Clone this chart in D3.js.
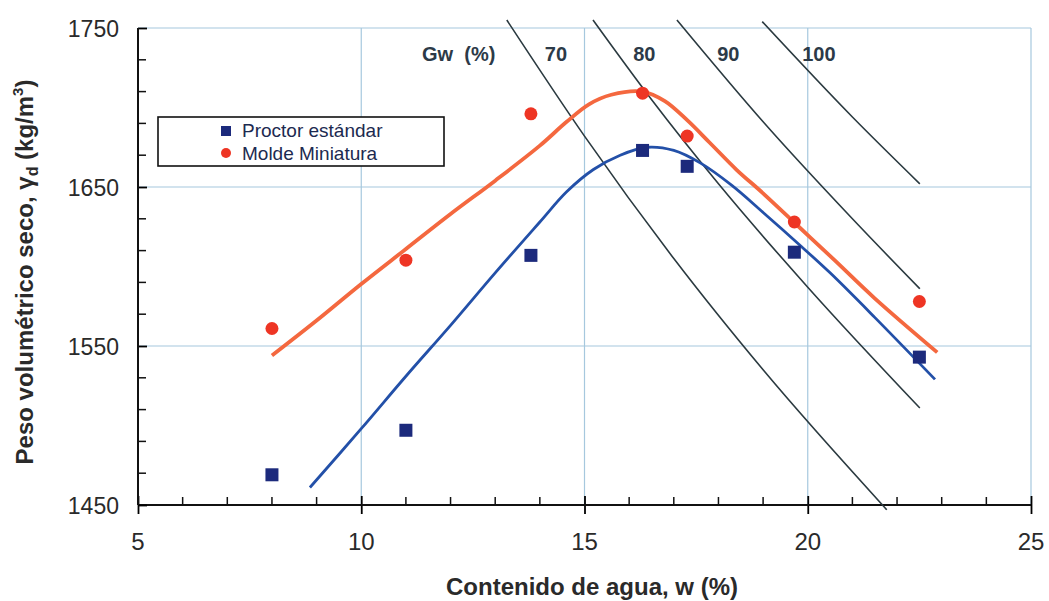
<!DOCTYPE html>
<html>
<head>
<meta charset="utf-8">
<script src="https://cdn.jsdelivr.net/npm/d3@7"></script>
<style>
  body { margin: 0; background: #fff; }
  svg { font-family: "Liberation Sans", Arial, sans-serif; }
  .tick-label { fill: #2a2a2a; }
  .axis-title { font-size: 24px; font-weight: bold; fill: #2a2a2a; }
  .gw-label { font-size: 20px; font-weight: bold; fill: #2c3a48; }
  .legend-text { font-size: 19px; fill: #1c2a50; }
</style>
</head>
<body>
<div id="chart"></div>
<script>
// measured points
const waterContent = [8.0, 11.0, 13.8, 16.3, 17.3, 19.7, 22.5];
const proctorValues = [1469, 1497, 1607, 1673, 1663, 1609, 1543];
const miniValues = [1561, 1604, 1696, 1709, 1682, 1628, 1578];

// fitted curves
const proctorFitW = [8.85, 10, 11, 12, 13, 14, 14.6, 15.2, 15.8, 16.4, 17.0, 17.6, 18.3, 19.0, 19.8, 20.5, 21.5, 22.85];
const proctorFitY = [1461, 1498, 1531, 1563, 1596, 1628, 1647, 1661, 1670, 1675, 1673, 1665, 1651, 1634, 1614, 1596, 1568, 1529];
const miniFitW = [8.0, 9, 10, 11, 12, 13, 14, 14.6, 15.1, 15.6, 16.3, 16.8, 17.3, 17.8, 18.4, 19.0, 19.8, 20.6, 21.5, 22.9];
const miniFitY = [1544, 1566, 1589, 1611, 1633, 1654, 1676, 1691, 1702, 1708, 1710, 1704, 1692, 1678, 1661, 1646, 1625, 1604, 1580, 1546];

// degree of saturation lines
const gwLabels = ["70", "80", "90", "100"];
const gwLineW = [
  [13.26, 15, 17, 19, 21.77],
  [15.19, 16.5, 18, 20, 22.51],
  [17.07, 19, 21, 22.51],
  [18.98, 21, 22.51]
];
const gwLineY = [
  [1755, 1682, 1605, 1535, 1447],
  [1755, 1705, 1652, 1587, 1511],
  [1755, 1691, 1630, 1586],
  [1754, 1694, 1652]
];

const xTicks = [5, 10, 15, 20, 25];
const yTicks = [1450, 1550, 1650, 1750];
const seriesNames = ["Proctor estándar", "Molde Miniatura"];

const W = 1049, H = 601;
const x = d3.scaleLinear().domain([5, 25]).range([138, 1031]);
const y = d3.scaleLinear().domain([1450, 1750]).range([505, 28]);

const svg = d3.select("#chart").append("svg")
  .attr("width", W).attr("height", H);

// grid
svg.append("g").selectAll("line")
  .data(xTicks.slice(1))
  .enter().append("line")
  .attr("x1", d => x(d)).attr("x2", d => x(d))
  .attr("y1", y(1750)).attr("y2", y(1450))
  .attr("stroke", "#a6c8de").attr("stroke-width", 1.2);
svg.append("g").selectAll("line")
  .data(yTicks.slice(1))
  .enter().append("line")
  .attr("x1", x(5)).attr("x2", x(25))
  .attr("y1", d => y(d)).attr("y2", d => y(d))
  .attr("stroke", "#a6c8de").attr("stroke-width", 1.2);

// axes with inward minor ticks, crossing major ticks
const xMinor = d3.range(6, 25).filter(v => v % 5 !== 0);
const yMinor = d3.range(1470, 1750, 20).filter(v => v % 100 !== 50);

const xAxis = svg.append("g").attr("transform", "translate(0," + y(1450) + ")");
xAxis.call(d3.axisBottom(x).tickValues(xTicks).tickSize(9).tickFormat(""));
xAxis.select(".domain").remove();
xAxis.selectAll(".tick line").attr("y1", -9).attr("stroke-width", 1.8);
xAxis.selectAll(".mn").data(xMinor).enter().append("line")
  .attr("x1", d => x(d)).attr("x2", d => x(d))
  .attr("y1", 0).attr("y2", -8)
  .attr("stroke", "#111").attr("stroke-width", 1.5);
xAxis.append("line").attr("x1", x(5)).attr("x2", x(25))
  .attr("stroke", "#111").attr("stroke-width", 2);

const yAxis = svg.append("g").attr("transform", "translate(" + x(5) + ",0)");
yAxis.call(d3.axisLeft(y).tickValues(yTicks).tickSize(10).tickFormat(""));
yAxis.select(".domain").remove();
yAxis.selectAll(".tick line").attr("x2", 9).attr("stroke-width", 1.8);
yAxis.selectAll(".mn").data(yMinor).enter().append("line")
  .attr("x1", 0).attr("x2", 8)
  .attr("y1", d => y(d)).attr("y2", d => y(d))
  .attr("stroke", "#111").attr("stroke-width", 1.5);
yAxis.append("line").attr("y1", y(1750)).attr("y2", y(1450))
  .attr("stroke", "#111").attr("stroke-width", 2);

// tick labels
svg.append("g").selectAll("text")
  .data(xTicks).enter().append("text")
  .attr("class", "tick-label")
  .attr("font-size", "24px")
  .attr("x", d => x(d)).attr("y", 550)
  .attr("text-anchor", "middle")
  .text(d => d);
svg.append("g").selectAll("text")
  .data(yTicks).enter().append("text")
  .attr("class", "tick-label")
  .attr("font-size", "23px")
  .attr("x", 119).attr("y", d => y(d) + 9)
  .attr("text-anchor", "end")
  .text(d => d);

// axis titles
svg.append("text")
  .attr("class", "axis-title")
  .attr("x", 592).attr("y", 595)
  .attr("text-anchor", "middle")
  .text("Contenido de agua, w (%)");

const yt = svg.append("text")
  .attr("class", "axis-title")
  .attr("transform", "translate(33,272) rotate(-90)")
  .attr("text-anchor", "middle");
yt.append("tspan").text("Peso volumétrico seco, γ");
yt.append("tspan").attr("font-size", "16px").attr("dy", 5).text("d");
yt.append("tspan").attr("dy", -5).text(" (kg/m");
yt.append("tspan").attr("font-size", "15px").attr("dy", -10).text("3");
yt.append("tspan").attr("dy", 10).text(")");

// saturation lines
const gwLine = d3.line().x(d => x(d[0])).y(d => y(d[1])).curve(d3.curveMonotoneX);
gwLineW.forEach(function (ws, i) {
  svg.append("path")
    .datum(ws.map((w, j) => [w, gwLineY[i][j]]))
    .attr("d", gwLine)
    .attr("fill", "none")
    .attr("stroke", "#2b3a40")
    .attr("stroke-width", 1.6);
});

// Gw labels
svg.append("text").attr("class", "gw-label")
  .attr("x", 422).attr("y", 61).text("Gw  (%)")
  .style("white-space", "pre");
const gwLabelW = [14.36, 16.34, 18.22, 20.25];
svg.append("g").selectAll("text")
  .data(gwLabels).enter().append("text")
  .attr("class", "gw-label")
  .attr("x", (d, i) => x(gwLabelW[i])).attr("y", 61)
  .attr("text-anchor", "middle")
  .text(d => d);

// fitted curves
const fitLine = d3.line().x(d => x(d[0])).y(d => y(d[1])).curve(d3.curveCatmullRom.alpha(0.5));
svg.append("path")
  .datum(miniFitW.map((w, i) => [w, miniFitY[i]]))
  .attr("d", fitLine)
  .attr("fill", "none").attr("stroke", "#f4683f").attr("stroke-width", 3.8);
svg.append("path")
  .datum(proctorFitW.map((w, i) => [w, proctorFitY[i]]))
  .attr("d", fitLine)
  .attr("fill", "none").attr("stroke", "#2350a8").attr("stroke-width", 2.8);

// markers
svg.append("g").selectAll("rect")
  .data(waterContent).enter().append("rect")
  .attr("x", (d) => x(d) - 6.5)
  .attr("y", (d, i) => y(proctorValues[i]) - 6.5)
  .attr("width", 13).attr("height", 13)
  .attr("fill", "#1c2a7c");
svg.append("g").selectAll("circle")
  .data(waterContent).enter().append("circle")
  .attr("cx", d => x(d))
  .attr("cy", (d, i) => y(miniValues[i]))
  .attr("r", 6.5)
  .attr("fill", "#ee3524");

// legend
const lg = svg.append("g");
lg.append("rect")
  .attr("x", 158).attr("y", 117).attr("width", 286).attr("height", 49)
  .attr("fill", "#fff").attr("stroke", "#111").attr("stroke-width", 1.6);
lg.append("rect").attr("x", 221).attr("y", 126).attr("width", 10).attr("height", 10)
  .attr("fill", "#1c2a7c");
lg.append("circle").attr("cx", 226).attr("cy", 153).attr("r", 5)
  .attr("fill", "#ee3524");
lg.selectAll("text").data(seriesNames).enter().append("text")
  .attr("class", "legend-text")
  .attr("x", 242).attr("y", (d, i) => 137 + i * 23)
  .text(d => d);
</script>
</body>
</html>
